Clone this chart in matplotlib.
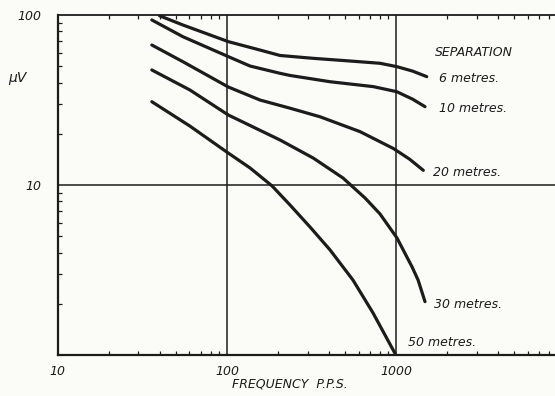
import matplotlib
matplotlib.use("Agg")
import matplotlib.pyplot as plt

# Data (frequency in p.p.s., signal in microvolts)
freq_6m = [40, 55, 102, 157, 206, 324, 511, 803, 1008, 1250, 1517]
uv_6m = [99, 87.3, 69.7, 62.2, 57.8, 55.6, 53.8, 52.0, 49.7, 46.8, 43.4]

freq_10m = [36, 55, 102, 137, 206, 236, 407, 733, 1008, 1250, 1482]
uv_10m = [93.5, 74.5, 56.9, 50.1, 45.4, 44.1, 40.5, 37.9, 35.4, 32.0, 28.9]

freq_20m = [36, 55, 102, 157, 236, 355, 612, 963, 1200, 1448]
uv_20m = [66.6, 53.1, 37.7, 31.6, 28.3, 25.2, 20.6, 16.4, 14.2, 12.2]

freq_30m = [36, 60.5, 102, 206, 324, 485, 655, 803, 1012, 1242, 1349, 1482]
uv_30m = [47.5, 36.2, 25.8, 18.4, 14.4, 11.0, 8.39, 6.76, 4.88, 3.30, 2.76, 2.06]

freq_50m = [36, 60.5, 102, 137, 185, 236, 310, 407, 556, 730, 986]
uv_50m = [30.9, 22.2, 15.4, 12.6, 9.87, 7.63, 5.66, 4.15, 2.76, 1.77, 1.02]

series = [
    (freq_6m, uv_6m, "6 metres."),
    (freq_10m, uv_10m, "10 metres."),
    (freq_20m, uv_20m, "20 metres."),
    (freq_30m, uv_30m, "30 metres."),
    (freq_50m, uv_50m, "50 metres."),
]

x_ticks = [10, 100, 1000]
x_tick_labels = ["10", "100", "1000"]
y_ticks = [10, 100]
y_tick_labels = ["10", "100"]

W, H = 555, 396
fig = plt.figure(figsize=(W / 100, H / 100), dpi=100)
bg = "#fbfbf8"
fig.patch.set_facecolor(bg)

ax_left = 57.7 / W
ax_bottom = 1 - 355 / H
ax_top = 1 - 15 / H
ax = fig.add_axes([ax_left, ax_bottom, 1 - ax_left, ax_top - ax_bottom])
ax.set_facecolor(bg)
ax.set_xscale("log")
ax.set_yscale("log")
ax.set_xlim(10, 10 ** (1 + (W - 57.7) / 169.2))
ax.set_ylim(1, 100)

ink = "#1c1c1c"
for fx, fy, lab in series:
    ax.plot(fx, fy, color=ink, lw=2.3, solid_capstyle="round", solid_joinstyle="round")

# grid lines at decades
for xv in [100, 1000]:
    ax.axvline(xv, color=ink, lw=1.1)
ax.axhline(10, color=ink, lw=1.1)

for s in ["left", "bottom"]:
    ax.spines[s].set_linewidth(1.6)
    ax.spines[s].set_color(ink)
ax.spines["top"].set_linewidth(1.3)
ax.spines["top"].set_color(ink)
ax.spines["right"].set_visible(False)

ax.tick_params(which="minor", direction="in", length=3, width=0.9, color=ink,
               top=True, bottom=True, left=True, right=False,
               labelbottom=False, labelleft=False)
ax.tick_params(which="major", length=0, pad=7)
ax.set_xticks(x_ticks)
ax.set_xticklabels(x_tick_labels, fontstyle="italic", fontsize=9, color=ink)
ax.set_yticks(y_ticks)
ax.set_yticklabels(y_tick_labels, fontstyle="italic", fontsize=9, color=ink)
ax.tick_params(axis="y", which="major", pad=12)

def px(x, y):
    return x / W, 1 - y / H

tkw = dict(fontstyle="italic", fontsize=9, color=ink, va="center", ha="left")
fig.text(*px(435, 52), "SEPARATION", **tkw)
fig.text(*px(439, 78), "6 metres.", **tkw)
fig.text(*px(439, 108), "10 metres.", **tkw)
fig.text(*px(433, 173), "20 metres.", **tkw)
fig.text(*px(434, 305), "30 metres.", **tkw)
fig.text(*px(408, 342), "50 metres.", **tkw)
fig.text(*px(8, 78), "μV", fontstyle="italic", fontsize=10, color=ink, va="center", ha="left")
fig.text(*px(290, 384), "FREQUENCY  P.P.S.", fontstyle="italic", fontsize=9, color=ink,
         va="center", ha="center")

fig.savefig("out.png", dpi=100, facecolor=bg)
